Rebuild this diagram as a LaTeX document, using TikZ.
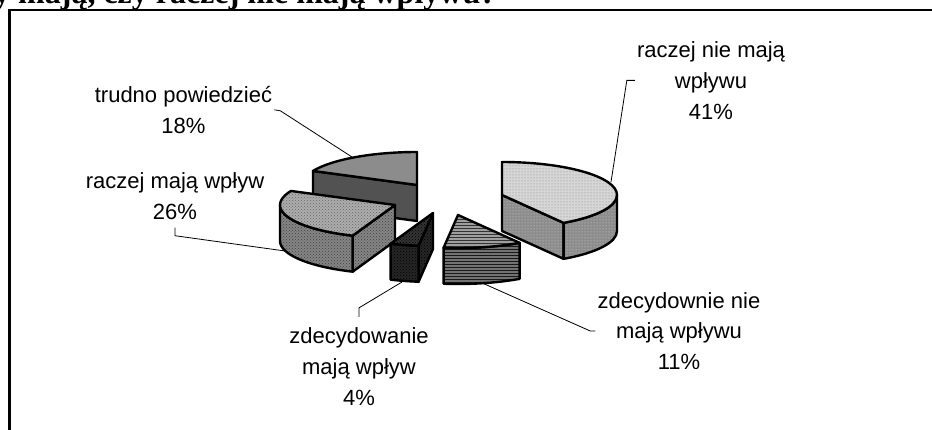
\documentclass[tikz,border=0pt]{standalone}
\usepackage{fontspec}
\setmainfont{Liberation Sans}
\newfontfamily\headfont{Liberation Serif}
\usetikzlibrary{calc,patterns}

\tikzset{
  face/.style={draw=black, line width=2.4pt, line join=round},
  top41/.style={face, preaction={fill=black!16}, pattern=dots, pattern color=black!50},
  side41/.style={face, preaction={fill=black!45}, pattern=dots, pattern color=black!15},
  top11/.style={face, preaction={fill=black!38}, pattern=horizontal lines, pattern color=black!80},
  side11/.style={face, preaction={fill=black!55}, pattern=horizontal lines, pattern color=black!90},
  top4/.style={face, preaction={fill=black!80}, pattern=crosshatch dots, pattern color=black},
  side4/.style={face, preaction={fill=black!85}, pattern=crosshatch dots, pattern color=black},
  top26/.style={face, preaction={fill=black!32}, pattern=crosshatch dots, pattern color=black!60},
  side26/.style={face, preaction={fill=black!48}, pattern=crosshatch dots, pattern color=black!75},
  top18/.style={face, fill=black!45},
  front18/.style={face, fill=black!68},
  lbl/.style={inner sep=2pt, align=center, font=\fontsize{22}{31}\selectfont},
  leader/.style={draw=black, line width=0.8pt},
}

\begin{document}
\begin{tikzpicture}[x=1pt, y=-1pt, x radius=115pt, y radius=33pt]
  \useasboundingbox (0,0) rectangle (932,430);
  \clip (0,0) rectangle (932,430);
  \node[anchor=base west, inner sep=0, font=\headfont\bfseries\fontsize{32}{38}\selectfont] (title) at (-6,3.5) {y mają, czy raczej nie mają wpływu?};
  \draw[line width=2.5pt] (9.5,440) -- (9.5,10) -- (945,10);

  \coordinate (c18) at (417,185);
  \coordinate (c41) at (502,195);
  \coordinate (c26) at (395,205);
  \coordinate (c11) at (458,215);
  \coordinate (c4) at (433,213);

  % trudno powiedziec
  \path[front18] (c18) -- ++(154.8:115pt and 33pt) -- ++(0,36) -- ($(c18)+(0,36)$) -- cycle;
  \path[top18] (c18) -- ++(90:115pt and 33pt) arc[start angle=90, end angle=154.8] -- cycle;

  % raczej nie maja wplywu
  \path[side41] (c41) -- ++(-57.6:115pt and 33pt) -- ++(0,36) -- ($(c41)+(0,36)$) -- cycle;
  \path[side41] ($(c41)+(0:115pt and 33pt)$) arc[start angle=0, end angle=-57.6] -- ++(0,36) arc[start angle=-57.6, end angle=0] -- cycle;
  \path[top41] (c41) -- ++(90:115pt and 33pt) arc[start angle=90, end angle=-57.6] -- cycle;

  % raczej maja wplyw
  \path[side26] (c26) -- ++(-111.6:115pt and 33pt) -- ++(0,36) -- ($(c26)+(0,36)$) -- cycle;
  \path[side26] ($(c26)+(-111.6:115pt and 33pt)$) arc[start angle=-111.6, end angle=-180] -- ++(0,36) arc[start angle=-180, end angle=-111.6] -- cycle;
  \path[top26] (c26) -- ++(-111.6:115pt and 33pt) arc[start angle=-111.6, end angle=-205.2] -- cycle;

  % zdecydownie nie
  \path[side11] ($(c11)+(-57.6:115pt and 33pt)$) arc[start angle=-57.6, end angle=-97.2] -- ++(0,36) arc[start angle=-97.2, end angle=-57.6] -- cycle;
  \path[top11] (c11) -- ++(-57.6:115pt and 33pt) arc[start angle=-57.6, end angle=-97.2] -- cycle;

  % zdecydowanie maja
  \path[side4] (c4) -- ++(-97.2:115pt and 33pt) -- ++(0,36) -- ($(c4)+(0,36)$) -- cycle;
  \path[side4] ($(c4)+(-97.2:115pt and 33pt)$) arc[start angle=-97.2, end angle=-111.6] -- ++(0,36) arc[start angle=-111.6, end angle=-97.2] -- cycle;
  \path[top4] (c4) -- ++(-97.2:115pt and 33pt) arc[start angle=-97.2, end angle=-111.6] -- cycle;

  \node[lbl, anchor=base] (L18) at (183.5,133.3) {trudno powiedzieć\\18\%};
  \node[lbl, anchor=base] (L26) at (175,219.3) {raczej mają wpływ\\26\%};
  \node[lbl, anchor=base] (L41) at (711,119.3) {raczej nie mają\\wpływu\\41\%};
  \node[lbl, anchor=base] (L11) at (679,370) {zdecydownie nie\\mają wpływu\\11\%};
  \node[lbl, anchor=base] (L4) at (359,405) {zdecydowanie\\mają wpływ\\4\%};

  \coordinate (e18) at (352,157);
  \coordinate (e26) at (285,251);
  \coordinate (e41) at (611,182);
  \coordinate (e11) at (480,282);
  \coordinate (e4) at (402,282);

  \draw[leader] (L18.east) -- ++(6,1) -- (e18);
  \draw[leader] (L26.south) ++(0,6) -- ++(0,8) -- (e26);
  \draw[leader] (L41.west) -- ++(-8,0) -- (e41);
  \draw[leader] (L11.west) -- ++(-5,0) -- (e11);
  \draw[leader] (L4.north) ++(0,-8) -- ++(0,-9) -- (e4);
\end{tikzpicture}
\end{document}
